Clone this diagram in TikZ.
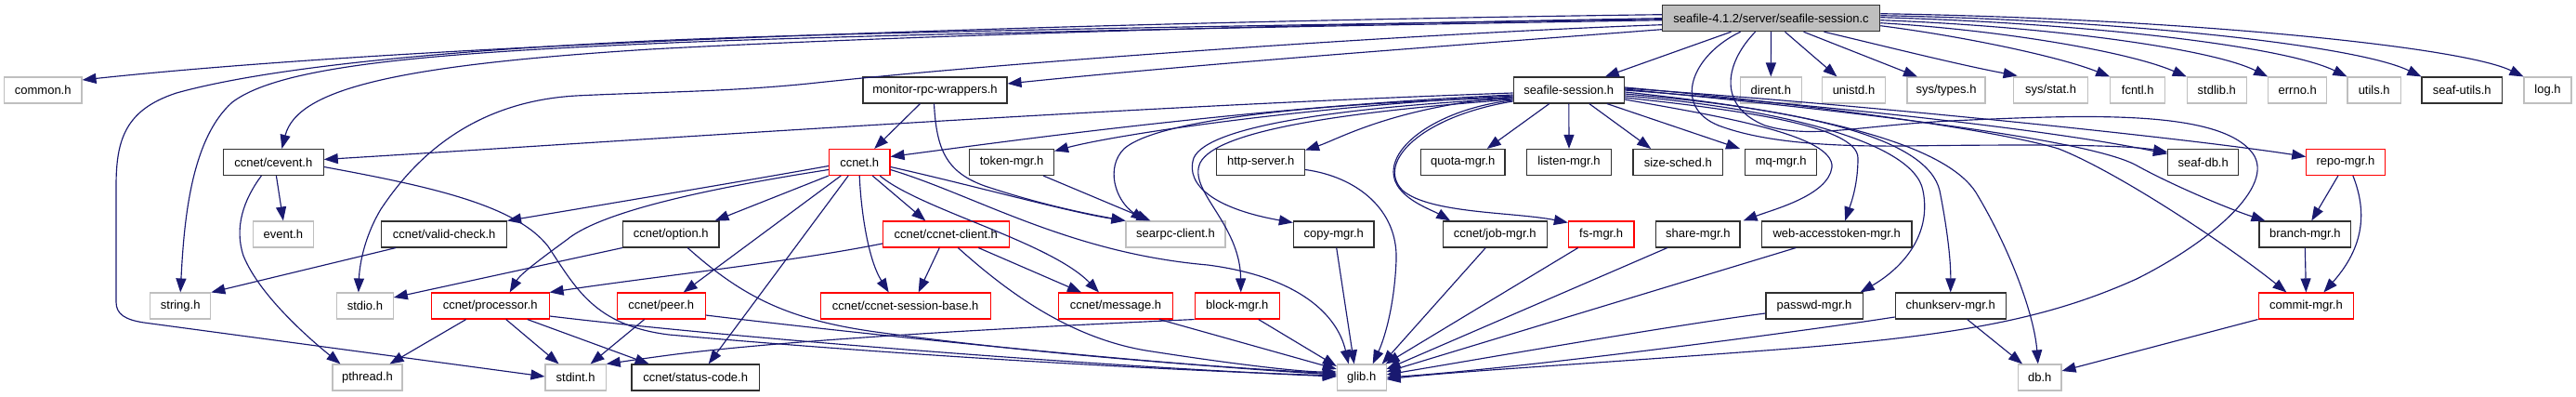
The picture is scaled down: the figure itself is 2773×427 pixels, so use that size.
\documentclass[tikz,border=0pt]{standalone}
\usepackage{fontspec}
\setmainfont{Liberation Sans}
\usetikzlibrary{arrows.meta}
\definecolor{edgec}{HTML}{191970}
\definecolor{grayb}{HTML}{BFBFBF}
\definecolor{blkb}{HTML}{303030}
\begin{document}
\begin{tikzpicture}[x=1pt,y=-1pt,
  nb/.style={draw, line width=1.1pt, minimum height=28pt, inner sep=0pt, font=\fontsize{13}{15}\selectfont, fill=white},
  bk/.style={nb, draw=blkb},
  gr/.style={nb, draw=grayb},
  rd/.style={nb, draw=red},
  conn/.style={draw=edgec, line width=1.15pt, -{Triangle[length=15pt,width=11pt]}}
]
\useasboundingbox (0,0) rectangle (2773,427);
% row 1
\node[bk, fill=grayb, minimum width=234.4] (root) at (1906.5,19.7) {seafile-4.1.2/server/seafile-session.c};
% row 2
\node[gr, minimum width=83.5] (common) at (46.25,97) {common.h};
\node[bk, minimum width=155] (monitor) at (1006.5,97) {monitor-rpc-wrappers.h};
\node[bk, minimum width=119.5] (sessh) at (1688.8,97) {seafile-session.h};
\node[gr, minimum width=66.2] (dirent) at (1906.3,97) {dirent.h};
\node[gr, minimum width=68] (unistd) at (1995.5,97) {unistd.h};
\node[gr, minimum width=84] (systypes) at (2095,97) {sys/types.h};
\node[gr, minimum width=80.3] (sysstat) at (2207.6,97) {sys/stat.h};
\node[gr, minimum width=59] (fcntl) at (2301.2,97) {fcntl.h};
\node[gr, minimum width=64] (stdlib) at (2386.3,97) {stdlib.h};
\node[gr, minimum width=63] (errno) at (2473.2,97) {errno.h};
\node[gr, minimum width=57.5] (utils) at (2555.7,97) {utils.h};
\node[bk, minimum width=86.5] (seafutils) at (2650.2,97) {seaf-utils.h};
\node[gr, minimum width=51] (log) at (2742.5,97) {log.h};
% row 3
\node[bk, minimum width=107.6] (cevent) at (294.4,174.5) {ccnet/cevent.h};
\node[rd, minimum width=65.6] (ccneth) at (925.2,174.5) {ccnet.h};
\node[bk, minimum width=90.75] (token) at (1089.1,174.5) {token-mgr.h};
\node[bk, minimum width=94.7] (http) at (1357.2,174.5) {http-server.h};
\node[bk, minimum width=90.5] (quota) at (1574.75,174.5) {quota-mgr.h};
\node[bk, minimum width=90.6] (listen) at (1689,174.5) {listen-mgr.h};
\node[bk, minimum width=96.5] (sizesched) at (1806.25,174.5) {size-sched.h};
\node[bk, minimum width=77.2] (mq) at (1917.2,174.5) {mq-mgr.h};
\node[bk, minimum width=76.3] (seafdb) at (2371.7,174.5) {seaf-db.h};
\node[rd, minimum width=84.3] (repo) at (2524.9,174.5) {repo-mgr.h};
% row 4
\node[gr, minimum width=65.2] (event) at (304.9,252) {event.h};
\node[bk, minimum width=134.8] (validcheck) at (478.1,252) {ccnet/valid-check.h};
\node[bk, minimum width=103.5] (option) at (722.25,252) {ccnet/option.h};
\node[rd, minimum width=135.8] (client) at (1018.3,252) {ccnet/ccnet-client.h};
\node[gr, minimum width=107] (searpc) at (1265.5,252) {searpc-client.h};
\node[bk, minimum width=86.6] (copy) at (1435.7,252) {copy-mgr.h};
\node[bk, minimum width=112.1] (jobmgr) at (1609.2,252) {ccnet/job-mgr.h};
\node[rd, minimum width=70.6] (fs) at (1723.7,252) {fs-mgr.h};
\node[bk, minimum width=90.4] (share) at (1827.8,252) {share-mgr.h};
\node[bk, minimum width=161.6] (webtok) at (1977.2,252) {web-accesstoken-mgr.h};
\node[bk, minimum width=98.6] (branch) at (2481.3,252) {branch-mgr.h};
% row 5
\node[gr, minimum width=65.2] (string) at (194.2,329) {string.h};
\node[gr, minimum width=60.7] (stdio) at (392.9,329) {stdio.h};
\node[rd, minimum width=126.7] (processor) at (527.7,329) {ccnet/processor.h};
\node[rd, minimum width=94.7] (peer) at (711.7,329) {ccnet/peer.h};
\node[rd, minimum width=183] (sessbase) at (974.7,329) {ccnet/ccnet-session-base.h};
\node[rd, minimum width=122.6] (message) at (1201,329) {ccnet/message.h};
\node[rd, minimum width=91.1] (block) at (1331.75,329) {block-mgr.h};
\node[bk, minimum width=104.1] (passwd) at (1953,329) {passwd-mgr.h};
\node[bk, minimum width=119] (chunkserv) at (2099.7,329) {chunkserv-mgr.h};
\node[rd, minimum width=102.7] (commit) at (2482.4,329) {commit-mgr.h};
% row 6
\node[gr, minimum width=75] (pthread) at (395.5,406) {pthread.h};
\node[gr, minimum width=65.2] (stdint) at (619.6,406) {stdint.h};
\node[bk, minimum width=137.4] (statuscode) at (748.7,406) {ccnet/status-code.h};
\node[gr, minimum width=52.7] (glib) at (1465.7,406) {glib.h};
\node[gr, minimum width=46.4] (db) at (2195.8,406) {db.h};

% ---- root edges
\draw[conn] ([yshift=4pt]root.west) .. controls (1300,22) and (500,42) .. ([yshift=11pt]common.east);
\draw[conn] (root.west) .. controls (1300,28) and (900,42) .. (700,53) .. controls (430,70) and (320,95) .. ([xshift=9pt]cevent.north);
\draw[conn] ([yshift=-2pt]root.west) .. controls (1300,30) and (900,38) .. (700,47) .. controls (450,58) and (300,72) .. (250,110) .. controls (205,150) and (198,240) .. (string.north);
\draw[conn] ([yshift=-1pt]root.west) .. controls (1300,28) and (900,35) .. (700,44) .. controls (450,56) and (280,75) .. (190,100) .. controls (135,118) and (125,150) .. (125,200) -- (125,325) .. controls (125,338) and (135,344) .. (155,347) -- ([yshift=1pt]stdint.west);
\draw[conn] ([yshift=-7pt]root.west) .. controls (1550,35) and (1100,65) .. (870,90) .. controls (780,99) and (700,99) .. (620,103) .. controls (500,110) and (440,180) .. (410,225) .. controls (392,255) and (387,285) .. ([xshift=-7pt]stdio.north);
\draw[conn] ([yshift=-12pt]root.west) .. controls (1550,50) and (1300,68) .. ([yshift=7pt]monitor.east);
\draw[conn] ([xshift=-43pt]root.south) -- ([xshift=39pt]sessh.north);
\draw[conn] (root.south) -- (dirent.north);
\draw[conn] ([xshift=15pt]root.south) -- ([xshift=-18pt]unistd.north);
\draw[conn] ([xshift=35pt]root.south) -- ([xshift=-31pt]systypes.north);
\draw[conn] ([xshift=57pt]root.south) .. controls (2030,50) and (2110,70) .. ([xshift=-36pt,yshift=1pt]sysstat.north);
\draw[conn] ([yshift=-8pt]root.east) .. controls (2120,40) and (2220,62) .. (fcntl.north west);
\draw[conn] ([yshift=-5pt]root.east) .. controls (2150,32) and (2290,55) .. (stdlib.north west);
\draw[conn] ([yshift=-2pt]root.east) .. controls (2200,28) and (2380,52) .. (errno.north west);
\draw[conn] ([yshift=1pt]root.east) .. controls (2250,25) and (2460,50) .. (utils.north west);
\draw[conn] ([yshift=3pt]root.east) .. controls (2300,22) and (2540,50) .. (seafutils.north west);
\draw[conn] ([yshift=5pt]root.east) .. controls (2350,20) and (2650,50) .. (log.north west);
\draw[conn] ([xshift=-33pt]root.south) .. controls (1820,60) and (1800,115) .. (1850,135) .. controls (1890,150) and (1950,158) .. (2050,157) .. controls (2200,155) and (2290,156) .. ([yshift=11pt]seafdb.west);
\draw[conn] ([xshift=-17pt]root.south) .. controls (1855,70) and (1850,115) .. (1900,135) .. controls (1950,150) and (2000,135) .. (2100,130) .. controls (2250,123) and (2390,118) .. (2425,165) .. controls (2450,200) and (2380,260) .. (2300,300) .. controls (2200,345) and (2100,362) .. (1900,377) .. controls (1700,392) and (1560,400) .. ([yshift=-2pt]glib.east);

% ---- seafile-session.h edges
\draw[conn] ([yshift=-3pt]sessh.west) .. controls (1200,115) and (700,150) .. ([yshift=3pt]cevent.east);
\draw[conn] ([yshift=-5pt]sessh.west) .. controls (1350,115) and (1100,150) .. ([yshift=6pt]ccneth.east);
\draw[conn] ([yshift=-6pt]sessh.west) .. controls (1400,115) and (1200,145) .. ([yshift=12pt]token.east);
\draw[conn] ([yshift=-7pt]sessh.west) .. controls (1500,115) and (1440,150) .. ([yshift=13pt]http.east);
\draw[conn] ([yshift=-8pt]sessh.west) .. controls (1450,110) and (1250,125) .. (1210,160) .. controls (1190,180) and (1200,215) .. ([xshift=-33pt]searpc.north);
\draw[conn] ([yshift=-9pt]sessh.west) .. controls (1450,115) and (1300,135) .. (1285,170) .. controls (1275,200) and (1310,225) .. ([yshift=-2pt]copy.north west);
\draw[conn] ([yshift=-10pt]sessh.west) .. controls (1450,120) and (1310,140) .. (1292,175) .. controls (1278,205) and (1335,240) .. ([xshift=4pt]block.north);
\draw[conn] ([yshift=-11pt]sessh.west) .. controls (1560,115) and (1500,150) .. (1500,185) .. controls (1500,212) and (1540,225) .. ([xshift=-48pt]jobmgr.north);
\draw[conn] ([yshift=-12pt]sessh.west) .. controls (1530,125) and (1480,175) .. (1510,205) .. controls (1540,230) and (1630,228) .. ([yshift=-2pt]fs.north west);
\draw[conn] ([xshift=-21pt]sessh.south) -- ([xshift=26pt]quota.north);
\draw[conn] (sessh.south) -- (listen.north);
\draw[conn] ([xshift=22pt]sessh.south) -- ([xshift=-29pt]sizesched.north);
\draw[conn] ([xshift=41pt]sessh.south) -- ([xshift=-5pt]mq.north west);
\draw[conn] ([yshift=-10pt]sessh.east) .. controls (1850,125) and (1975,145) .. (1972,180) .. controls (1968,210) and (1910,225) .. ([xshift=3pt]share.north east);
\draw[conn] ([yshift=-8pt]sessh.east) .. controls (1870,118) and (2000,135) .. (2000,170) .. controls (2000,200) and (1992,220) .. ([xshift=9pt]webtok.north);
\draw[conn] ([yshift=-6pt]sessh.east) .. controls (1900,115) and (2060,150) .. (2070,205) .. controls (2080,255) and (2045,290) .. ([xshift=-3pt]passwd.north east);
\draw[conn] ([yshift=-4pt]sessh.east) .. controls (1950,118) and (2075,150) .. (2088,205) .. controls (2096,245) and (2100,280) .. (chunkserv.north);
\draw[conn] ([yshift=-2pt]sessh.east) .. controls (2000,125) and (2100,165) .. (2127,207) .. controls (2165,270) and (2190,340) .. ([xshift=-2pt]db.north);
\draw[conn] (sessh.east) .. controls (1950,112) and (2200,138) .. ([yshift=9pt]seafdb.west);
\draw[conn] ([yshift=2pt]sessh.east) .. controls (2000,112) and (2350,148) .. ([yshift=6pt]repo.west);
\draw[conn] ([yshift=1pt]sessh.east) .. controls (2000,120) and (2250,150) .. (2300,178) .. controls (2340,200) and (2400,225) .. ([xshift=7pt]branch.north west);
\draw[conn] ([yshift=3pt]sessh.east) .. controls (1950,112) and (2150,140) .. (2216,160) .. controls (2280,185) and (2400,265) .. ([xshift=-21pt]commit.north);

% ---- ccnet/cevent.h
\draw[conn] ([xshift=3pt]cevent.south) -- (event.north);
\draw[conn] ([xshift=-13pt]cevent.south) .. controls (262,215) and (252,245) .. (262,275) .. controls (280,320) and (340,370) .. ([xshift=-29pt]pthread.north);
\draw[conn] ([yshift=-5pt]cevent.east) .. controls (460,200) and (555,220) .. (590,265) .. controls (620,310) and (640,350) .. (720,360) .. controls (1000,385) and (1300,400) .. ([yshift=2pt]glib.west);

% ---- monitor
\draw[conn] ([xshift=-16pt]monitor.south) -- ([xshift=16pt]ccneth.north);
\draw[conn] ([xshift=-1pt]monitor.south) .. controls (1008,160) and (1018,185) .. (1060,200) .. controls (1120,220) and (1170,230) .. (searpc.north west);

% ---- ccnet.h
\draw[conn] ([yshift=-5pt]ccneth.east) .. controls (1050,200) and (1150,228) .. (searpc.north west);
\draw[conn] ([yshift=-4pt]ccneth.west) .. controls (800,195) and (650,220) .. (validcheck.north east);
\draw[conn] ([yshift=-8pt]ccneth.west) .. controls (780,200) and (650,225) .. (610,258) .. controls (580,280) and (560,295) .. ([xshift=21pt]processor.north);
\draw[conn] (ccneth.south west) -- ([xshift=-5pt]option.north east);
\draw[conn] ([xshift=-20pt]ccneth.south) -- ([xshift=24pt]peer.north);
\draw[conn] ([xshift=-12pt]ccneth.south) -- ([xshift=14pt]statuscode.north);
\draw[conn] (ccneth.south) .. controls (927,230) and (935,280) .. ([xshift=-18pt]sessbase.north);
\draw[conn] ([xshift=14pt]ccneth.south) -- ([xshift=-22pt]client.north);
\draw[conn] ([xshift=22pt]ccneth.south) .. controls (990,225) and (1130,260) .. ([xshift=-18pt]message.north);
\draw[conn] ([yshift=-8pt]ccneth.east) .. controls (1050,210) and (1150,272) .. (1300,285) .. controls (1400,298) and (1440,340) .. ([xshift=-14pt]glib.north);

% ---- token
\draw[conn] ([xshift=34pt]token.south) -- ([xshift=-27pt]searpc.north);

% ---- ccnet-client
\draw[conn] ([yshift=-10pt]client.west) .. controls (850,282) and (700,298) .. (processor.north east);
\draw[conn] ([xshift=-7pt]client.south) -- ([xshift=14pt]sessbase.north);
\draw[conn] ([xshift=35pt]client.south) -- ([xshift=-37pt]message.north);
\draw[conn] ([xshift=13pt]client.south) .. controls (1080,310) and (1150,365) .. (1240,378) .. controls (1330,392) and (1400,400) .. ([yshift=6pt]glib.west);

% ---- valid-check, option
\draw[conn] ([xshift=-52pt]validcheck.south) -- (string.north east);
\draw[conn] (option.south west) -- ([yshift=9pt]stdio.east);
\draw[conn] ([xshift=18pt]option.south) .. controls (800,320) and (850,345) .. (950,358) .. controls (1150,385) and (1350,397) .. ([yshift=4pt]glib.west);

% ---- processor, peer
\draw[conn] ([xshift=-26pt]processor.south) -- ([xshift=24pt]pthread.north);
\draw[conn] ([xshift=17pt]processor.south) -- ([xshift=-18pt]stdint.north);
\draw[conn] ([xshift=40pt]processor.south) -- ([xshift=-50pt]statuscode.north);
\draw[conn] ([yshift=-11pt]processor.east) .. controls (800,365) and (1200,395) .. ([yshift=1pt]glib.west);
\draw[conn] ([xshift=-18pt]peer.south) -- ([xshift=16pt]stdint.north);
\draw[conn] ([yshift=-10pt]peer.east) .. controls (950,362) and (1250,392) .. ([yshift=3pt]glib.west);

% ---- message, block
\draw[conn] ([xshift=47pt]message.south) -- ([yshift=9pt]glib.west);
\draw[conn] ([xshift=23pt]block.south) -- ([yshift=12pt]glib.west);
\draw[conn] (block.south west) .. controls (1100,352) and (850,365) .. (720,382) .. controls (690,386) and (670,389) .. (stdint.north east);

% ---- managers to glib
\draw[conn] ([xshift=3pt]copy.south) -- ([xshift=-8pt]glib.north);
\draw[conn] ([yshift=-8pt]http.east) .. controls (1460,190) and (1505,225) .. (1503,280) .. controls (1501,330) and (1490,365) .. ([xshift=12pt]glib.north);
\draw[conn] ([xshift=-10pt]jobmgr.south) -- ([xshift=22pt]glib.north);
\draw[conn] ([xshift=-25pt]fs.south) -- ([xshift=-1pt]glib.north east);
\draw[conn] ([xshift=-33pt]share.south) -- ([yshift=9pt]glib.east);
\draw[conn] ([xshift=-44pt]webtok.south) -- ([yshift=6pt]glib.east);
\draw[conn] ([yshift=-8pt]passwd.west) .. controls (1800,350) and (1600,385) .. ([yshift=3pt]glib.east);
\draw[conn] ([yshift=-12pt]chunkserv.west) .. controls (1950,355) and (1650,395) .. (glib.east);

% ---- right side
\draw[conn] ([xshift=18pt]chunkserv.south) -- ([xshift=5pt]db.north west);
\draw[conn] ([xshift=-8pt]repo.south) -- ([xshift=7pt]branch.north);
\draw[conn] ([xshift=8pt]repo.south) .. controls (2545,220) and (2550,260) .. ([xshift=19pt]commit.north);
\draw[conn] (branch.south) -- (commit.north);
\draw[conn] (commit.south west) -- ([yshift=7pt]db.east);
\end{tikzpicture}
\end{document}
